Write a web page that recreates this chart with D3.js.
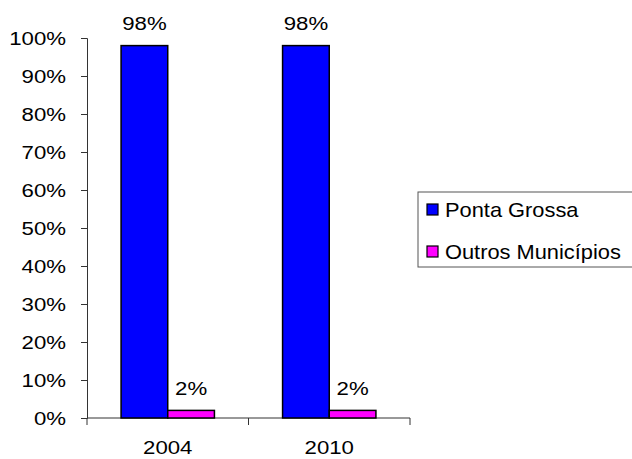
<!DOCTYPE html>
<html>
<head>
<meta charset="utf-8">
<script src="https://cdn.jsdelivr.net/npm/d3@7"></script>
<style>
  body { margin: 0; background: #fff; }
  text { font-family: Arial, "Liberation Sans", sans-serif; fill: #000; }
</style>
</head>
<body>
<script>
const years = ['2004', '2010'];
const series = ['Ponta Grossa', 'Outros Municípios'];
const pontaGrossa = [0.98, 0.98];
const outros = [0.02, 0.02];
const yTicks = [0, 0.1, 0.2, 0.3, 0.4, 0.5, 0.6, 0.7, 0.8, 0.9, 1];
const colors = ['#0000ff', '#ff00ff'];

const margin = { top: 38, right: 222, bottom: 41, left: 87 };
const width = 632 - margin.left - margin.right;
const height = 459 - margin.top - margin.bottom;
const stretch = 'scale(1.2,1)';

const svg = d3.select('body').append('svg')
  .attr('width', 632)
  .attr('height', 459);

const g = svg.append('g')
  .attr('transform', `translate(${margin.left}, ${margin.top})`);

const x0 = d3.scaleBand().domain(years).range([0, width]);
const x1 = d3.scaleBand().domain(series).range([0, x0.bandwidth()]).paddingOuter(0.73);
const y = d3.scaleLinear().domain([0, 1]).range([height, 0]);

const rows = years.map((yr, i) => ({
  year: yr,
  values: [
    { key: series[0], value: pontaGrossa[i] },
    { key: series[1], value: outros[i] },
  ],
}));

// y axis
const yAxis = g.append('g')
  .call(d3.axisLeft(y).tickValues(yTicks).tickSize(6).tickFormat(d3.format('.0%')));
yAxis.select('.domain').attr('stroke', '#333');
yAxis.selectAll('.tick line').attr('stroke', '#333');
yAxis.selectAll('.tick text')
  .attr('x', null)
  .attr('dy', '0.35em')
  .attr('transform', `translate(-21,0) ${stretch}`)
  .style('font-size', '18.5px')
  .style('font-family', 'Arial, "Liberation Sans", sans-serif');

// x axis: line with ticks at band boundaries
const xg = g.append('g').attr('transform', `translate(0, ${height})`);
xg.append('line')
  .attr('x1', 0).attr('x2', width)
  .attr('stroke', '#333');
xg.selectAll('.bt')
  .data([0, ...years.map(d => x0(d) + x0.bandwidth())])
  .enter().append('line')
  .attr('x1', d => d).attr('x2', d => d)
  .attr('y1', 0).attr('y2', 7)
  .attr('stroke', '#333');
xg.selectAll('.yl')
  .data(years)
  .enter().append('text')
  .attr('transform', d => `translate(${x0(d) + x0.bandwidth() / 2}, 36) ${stretch}`)
  .attr('text-anchor', 'middle')
  .style('font-size', '18.5px')
  .text(d => d);

// bars
const groups = g.selectAll('.grp')
  .data(rows)
  .enter().append('g')
  .attr('transform', d => `translate(${x0(d.year)}, 0)`);

groups.selectAll('rect')
  .data(d => d.values)
  .enter().append('rect')
  .attr('x', d => x1(d.key))
  .attr('y', d => y(d.value))
  .attr('width', x1.bandwidth())
  .attr('height', d => height - y(d.value))
  .attr('fill', (d, i) => colors[i])
  .attr('stroke', '#000')
  .attr('stroke-width', 1.5);

groups.selectAll('.lbl')
  .data(d => d.values)
  .enter().append('text')
  .attr('transform', d => `translate(${x1(d.key) + x1.bandwidth() / 2}, ${y(d.value) - 15.5}) ${stretch}`)
  .attr('text-anchor', 'middle')
  .style('font-size', '18.5px')
  .text(d => d3.format('.0%')(d.value));

// legend
const legend = svg.append('g').attr('transform', 'translate(418, 192)');
legend.append('rect')
  .attr('x', 0).attr('y', 0)
  .attr('width', 240).attr('height', 75)
  .attr('fill', '#fff')
  .attr('stroke', '#555');

const items = legend.selectAll('.it')
  .data(series)
  .enter().append('g')
  .attr('transform', (d, i) => `translate(9, ${12 + i * 42})`);
items.append('rect')
  .attr('width', 11).attr('height', 11)
  .attr('fill', (d, i) => colors[i])
  .attr('stroke', '#000')
  .attr('stroke-width', 1.2);
items.append('text')
  .attr('transform', 'translate(18, 13) scale(1.04,1)')
  .style('font-size', '21px')
  .text(d => d);
</script>
</body>
</html>
